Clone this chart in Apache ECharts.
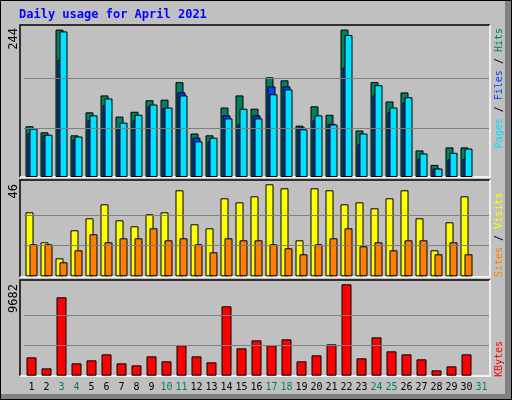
<!DOCTYPE html>
<html><head><meta charset="utf-8">
<script src="https://cdn.jsdelivr.net/npm/echarts@6/dist/echarts.min.js"></script>
<style>html,body{margin:0;padding:0;background:#c0c0c0}#c{width:512px;height:400px}</style>
</head><body><div id="c"></div>
<script>
const days = Array.from({length:31},(_,i)=>String(i+1));
const weekendDays = ['3','4','10','11','17','18','24','25','31'];
const hits  = [84,74,244,69,107,135,100,108,127,128,157,72,69,115,135,113,165,160,85,117,103,244,77,157,125,140,44,20,49,49,null];
const files = [72,69,194,62,94,119,81,94,117,114,140,65,59,102,87,102,150,150,82,94,88,181,54,135,107,123,30,14,29,30,null];
const pages = [80,70,241,67,102,130,90,103,120,115,135,59,65,97,113,97,137,145,79,102,87,235,72,152,115,132,39,14,40,47,null];
const visitsY = [32,17,9,23,29,36,28,25,31,32,43,26,24,39,37,40,46,44,18,44,43,36,37,34,39,43,29,13,27,40,null];
const sitesO  = [16,16,7,13,21,17,19,19,24,18,19,16,12,19,18,18,16,14,11,16,19,24,15,17,13,18,18,11,17,11,null];
const kbytes = [1944,777,8305,1308,1626,2262,1308,1096,2050,1520,3216,2050,1414,7350,2898,3746,3216,3852,1520,2156,3322,9682,1838,4064,2580,2262,1732,565,990,2262,null];
const maxLabels = ['244','46','9682'];
const title = 'Daily usage for April 2021';

const F = 'DejaVu Sans Mono';
const panels = [{top:25,h:152,max:251.6,m:244},{top:180,h:96.3,max:48.15,m:46},{top:280,h:95.7,max:10137,m:9682}];
const grid = panels.map(p=>({left:24,width:465,top:p.top,height:p.h}));
const xAxis = panels.map((p,i)=>({type:'category',gridIndex:i,data:days,
  axisLine:{show:false},axisTick:{show:false},
  axisLabel:i<2?{show:false}:{show:true,interval:0,margin:7,fontFamily:F,fontSize:10,
    color:(v)=>weekendDays.includes(v)?'#008060':'#000000'}}));
const yAxis = panels.map((p,i)=>({type:'value',gridIndex:i,min:0,max:p.max,
  axisLine:{show:false},axisTick:{show:false},axisLabel:{show:false},splitLine:{show:false}}));
const ml = (m)=>({silent:true,symbol:'none',label:{show:false},lineStyle:{color:'#808080',type:'solid',width:1},
  data:[{yAxis:m/3},{yAxis:2*m/3}]});
const bs = {borderColor:'#000',borderWidth:1};
const series = [
  {type:'bar',xAxisIndex:0,yAxisIndex:0,data:hits,barWidth:8,barGap:'-75%',itemStyle:{color:'#008060',...bs},markLine:ml(244),z:2},
  {type:'bar',xAxisIndex:0,yAxisIndex:0,data:files,barWidth:8,barGap:'-75%',itemStyle:{color:'#0040ff',...bs},z:3},
  {type:'bar',xAxisIndex:0,yAxisIndex:0,data:pages,barWidth:8,barGap:'-75%',itemStyle:{color:'#00e0ff',...bs},z:4},
  {type:'bar',xAxisIndex:1,yAxisIndex:1,data:visitsY,barWidth:8,barGap:'-50%',itemStyle:{color:'#ffff00',...bs},markLine:ml(46),z:2},
  {type:'bar',xAxisIndex:1,yAxisIndex:1,data:sitesO,barWidth:8,barGap:'-50%',itemStyle:{color:'#ff8000',...bs},z:3},
  {type:'bar',xAxisIndex:2,yAxisIndex:2,data:kbytes,barWidth:10,itemStyle:{color:'#ff0000',...bs},markLine:ml(9682),z:2}
];
const frames = [[25,177],[180,277],[280,376]];
const graphic = [
  {type:'rect',shape:{x:505,y:0,width:7,height:400},style:{fill:'#808080'},z:-1},
  {type:'rect',shape:{x:0,y:394,width:512,height:6},style:{fill:'#808080'},z:-1},
  {type:'rect',shape:{x:0.5,y:0.5,width:511,height:399},style:{fill:'none',stroke:'#000',lineWidth:1}},
  {type:'text',x:19,y:15,style:{text:title,fill:'#0000ff',font:'bold 12px "'+F+'"',textVerticalAlign:'middle'}}
];
frames.forEach(f=>{
  graphic.push({type:'polyline',shape:{points:[[20,f[1]],[20,f[0]],[490,f[0]]]},style:{stroke:'#000',lineWidth:1.5,fill:'none'}});
  graphic.push({type:'polyline',shape:{points:[[490,f[0]],[490,f[1]],[20,f[1]]]},style:{stroke:'#fff',lineWidth:1.5,fill:'none'}});
});
const labY = [28,184,284];
maxLabels.forEach((t,i)=>graphic.push({type:'text',x:14,y:labY[i],rotation:Math.PI/2,
  style:{text:t,fill:'#000',font:'12px "'+F+'"',textAlign:'right',textVerticalAlign:'middle'}}));
function side(y,align,parts){
  graphic.push({type:'text',x:499,y:y,rotation:Math.PI/2,style:{text:parts.map((p,k)=>'{s'+k+'|'+p[0]+'}').join(''),
    textAlign:align,textVerticalAlign:'middle',
    rich:Object.fromEntries(parts.map((p,k)=>['s'+k,{fill:p[1],font:'10px "'+F+'"'}]))}});
}
side(28,'right',[['Pages','#00e0ff'],[' / ','#000'],['Files','#0040ff'],[' / ','#000'],['Hits','#008060']]);
side(277,'left',[['Sites','#ff8000'],[' / ','#000'],['Visits','#ffff00']]);
side(377,'left',[['KBytes','#ff0000']]);
const chart = echarts.init(document.getElementById('c'));
chart.setOption({backgroundColor:'#c0c0c0',animation:false,grid,xAxis,yAxis,series,graphic});
</script></body></html>
